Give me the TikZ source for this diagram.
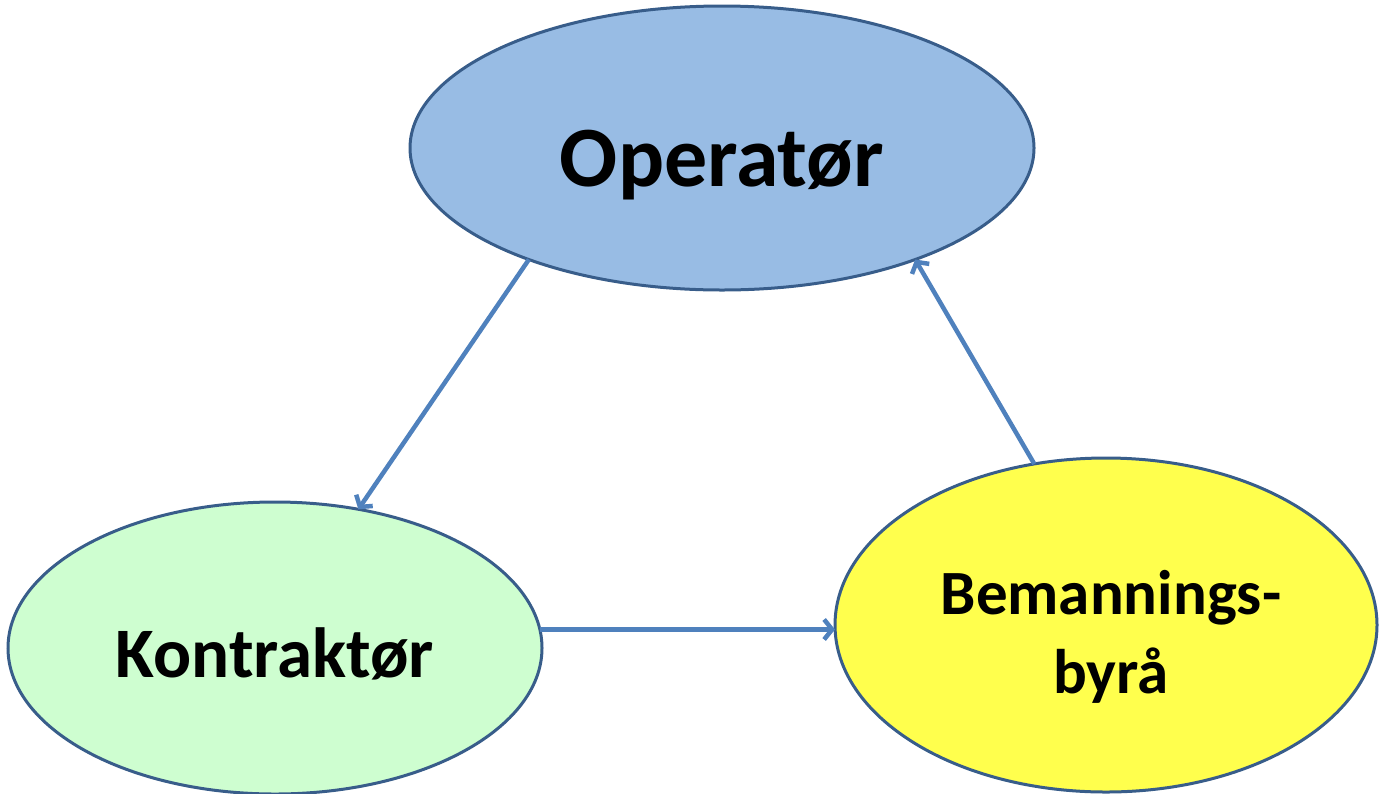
\documentclass[tikz,border=0pt]{standalone}
\usepackage{fontspec}
\setmainfont{Carlito}
\usetikzlibrary{shapes.geometric,arrows.meta}
\definecolor{edgeblue}{RGB}{56,93,138}
\definecolor{arrowblue}{RGB}{79,129,189}
\definecolor{opfill}{RGB}{152,188,228}
\definecolor{konfill}{RGB}{206,254,208}
\definecolor{byfill}{RGB}{255,255,77}
\tikzset{
  blob/.style={ellipse, draw=edgeblue, line width=3pt, inner sep=0pt, outer sep=0pt},
  label text/.style={inner sep=0pt, align=center, text=black},
  flow/.style={draw=arrowblue, line width=4.5pt, -{Straight Barb[length=8pt,width=20pt,line width=4.5pt]}},
}
\begin{document}
\begin{tikzpicture}[x=1pt,y=-1pt]
\useasboundingbox (0,0) rectangle (1380,793);
\node[blob, fill=opfill, minimum width=624pt, minimum height=284pt] (op) at (722,148) {};
\node[blob, fill=konfill, minimum width=534pt, minimum height=292pt] (kon) at (275,648) {};
\node[blob, fill=byfill, minimum width=542pt, minimum height=334pt] (by) at (1106,625) {};
\node[label text, font=\bfseries\fontsize{86}{100}\selectfont] (opt) at (722,165) {Operatør};
\node[label text, font=\bfseries\fontsize{71}{85}\selectfont] (kont) at (275,654) {Kontraktør};
\node[label text, font=\bfseries\fontsize{63}{79}\selectfont] (byt) at (1111,637) {Bemannings-\\byrå};
\draw[flow] (op.210) -- (kon.59);
\draw[flow] (kon.4) -- (kon.4 -| by.west);
\draw[flow] (by.114) -- (op.330);
\end{tikzpicture}
\end{document}
